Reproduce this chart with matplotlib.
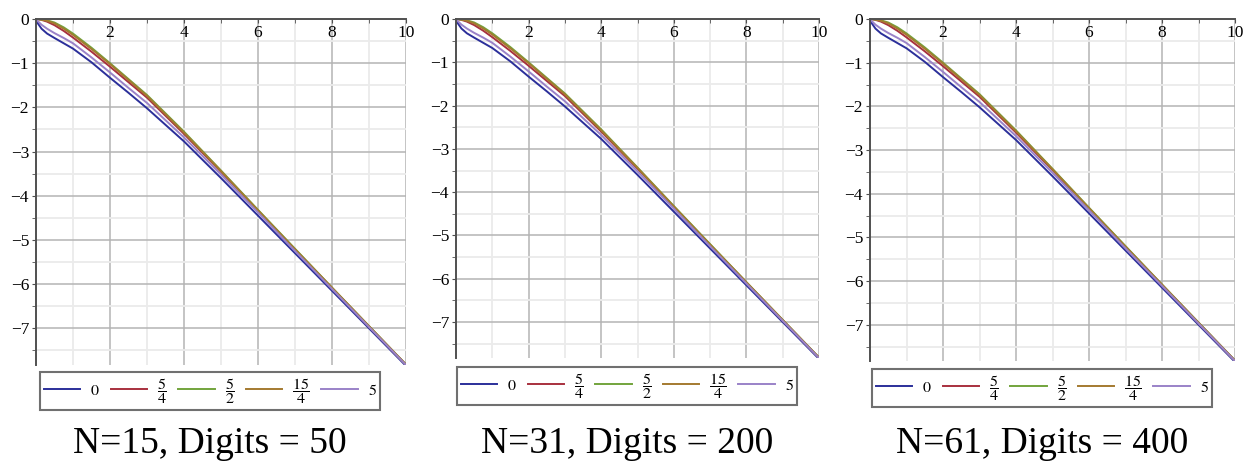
import numpy as np
import matplotlib.pyplot as plt
from matplotlib.ticker import MultipleLocator

plt.rcParams['font.family'] = ['Liberation Serif', 'DejaVu Serif']
plt.rcParams['mathtext.fontset'] = 'stix'

# values (same shape in all three panels)
x = [0, 0.05, 0.15, 0.3, 0.5, 0.75, 1, 1.5, 2, 2.5, 3, 4, 5, 6, 7, 8, 9, 10]
y_0 = [0, -0.10, -0.22, -0.33, -0.43, -0.55, -0.67, -0.98, -1.33, -1.67,
       -2.02, -2.77, -3.60, -4.45, -5.30, -6.15, -7.00, -7.85]
y_54 = [0, -0.005, -0.02, -0.06, -0.14, -0.27, -0.42, -0.74, -1.08, -1.43,
        -1.78, -2.60, -3.46, -4.34, -5.22, -6.09, -6.96, -7.82]
y_52 = [0, -0.002, -0.01, -0.03, -0.08, -0.19, -0.33, -0.65, -1.00, -1.36,
        -1.72, -2.55, -3.43, -4.32, -5.20, -6.08, -6.95, -7.82]
y_154 = [0, -0.003, -0.012, -0.04, -0.10, -0.22, -0.36, -0.68, -1.02, -1.38,
         -1.74, -2.57, -3.44, -4.33, -5.21, -6.08, -6.95, -7.82]
y_5 = [0, -0.05, -0.13, -0.22, -0.32, -0.43, -0.55, -0.87, -1.21, -1.56,
       -1.90, -2.68, -3.52, -4.38, -5.25, -6.11, -6.97, -7.83]

series = [y_0, y_54, y_52, y_154, y_5]
labels = ['$0$', r'$\dfrac{5}{4}$', r'$\dfrac{5}{2}$', r'$\dfrac{15}{4}$', '$5$']
colors = ['#2b2f9a', '#a8303e', '#72a43c', '#a47a30', '#9a82c8']

titles = ['N=15, Digits = 50', 'N=31, Digits = 200', 'N=61, Digits = 400']

W, H = 1245, 463
# left, right, top, bottom in pixels
boxes = [(36, 406, 19, 365), (456, 819, 19, 358), (870, 1235, 19, 361)]
legend_centers = [(210, 391), (627, 386), (1042, 388)]
title_x = [210, 627, 1042]

fig = plt.figure(figsize=(W / 100, H / 100), dpi=100)

for k in range(3):
    l, r, t, b = boxes[k]
    ax = fig.add_axes([l / W, 1 - b / H, (r - l) / W, (b - t) / H])
    lines = []
    for ys, c, lab in zip(series, colors, labels):
        ln, = ax.plot(x, ys, color=c, lw=1.4, label=lab)
        lines.append(ln)
    ax.set_xlim(0, 10)
    ax.set_ylim(-7.83, 0)
    ax.xaxis.set_major_locator(MultipleLocator(2))
    ax.xaxis.set_minor_locator(MultipleLocator(1))
    ax.yaxis.set_major_locator(MultipleLocator(1))
    ax.yaxis.set_minor_locator(MultipleLocator(0.5))
    ax.grid(which='major', color='#b4b4b4', lw=1.1)
    ax.grid(which='minor', color='#ebebeb', lw=1.3)
    ax.set_axisbelow(True)
    for s in ['right', 'bottom']:
        ax.spines[s].set_visible(False)
    for s in ['left', 'top']:
        ax.spines[s].set_color('#505050')
        ax.spines[s].set_linewidth(1.4)
    ax.tick_params(axis='x', which='both', top=True, bottom=False,
                   labeltop=True, labelbottom=False, direction='in',
                   length=3, color='#505050', pad=-16, labelsize=12.5)
    ax.tick_params(axis='y', which='both', direction='out', length=3,
                   color='#505050', pad=2, labelsize=12.5)
    ax.set_xticks([2, 4, 6, 8, 10])
    ax.set_yticks([0, -1, -2, -3, -4, -5, -6, -7])

    cx, cy = legend_centers[k]
    leg = fig.legend(handles=lines, loc='center', ncol=5,
                     bbox_to_anchor=(cx / W, 1 - cy / H), fontsize=11.5,
                     handlelength=2.3, handletextpad=0.6, columnspacing=0.7,
                     borderpad=0.25, fancybox=False, framealpha=1)
    leg.get_frame().set_edgecolor('#707070')
    leg.get_frame().set_linewidth(1.5)

    fig.text(title_x[k] / W, 1 - 453 / H, titles[k], ha='center',
             va='baseline', fontsize=27)

fig.savefig('out.png', dpi=100)
